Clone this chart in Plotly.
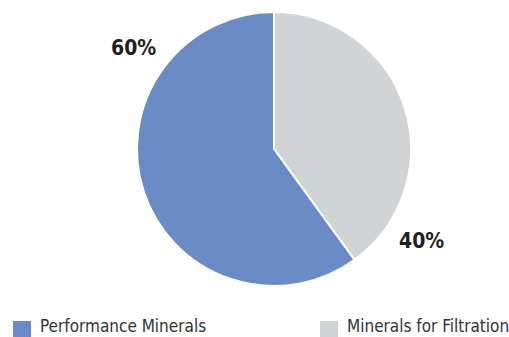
import plotly.graph_objects as go

# Segment data
labels = ["Performance Minerals", "Minerals for Filtration"]
values = [60, 40]
colors = ["#6a8bc6", "#d2d3d5"]

W, H = 509, 337
FONT = "DejaVu Sans Condensed, Roboto, sans-serif"

# Filtration runs clockwise from 12 o'clock, Performance fills the rest
order = [1, 0]
fig = go.Figure(
    go.Pie(
        labels=[labels[i] for i in order],
        values=[values[i] for i in order],
        sort=False,
        direction="clockwise",
        rotation=0,
        marker=dict(colors=[colors[i] for i in order],
                    line=dict(color="white", width=2)),
        textinfo="none",
        hoverinfo="label+percent",
        showlegend=False,
        domain=dict(x=[137 / W, 411 / W], y=[1 - 286 / H, 1 - 12 / H]),
    )
)

# Percentage callouts beside each slice
label_pos = [(133, 48), (421, 241)]
annotations = []
for v, (px, py) in zip(values, label_pos):
    annotations.append(
        dict(
            x=px / W, y=1 - py / H, xref="paper", yref="paper",
            text=f"<b>{v}%</b>", showarrow=False,
            font=dict(family=FONT, size=21, color="#231f20"),
            xanchor="center", yanchor="middle",
        )
    )

# Legend row along the bottom edge
shapes = []
legend_x = [13, 320]
for name, col, lx in zip(labels, colors, legend_x):
    shapes.append(
        dict(
            type="rect", xref="paper", yref="paper",
            x0=lx / W, x1=(lx + 18) / W, y0=0, y1=1 - 321 / H,
            fillcolor=col, line=dict(width=0),
        )
    )
    annotations.append(
        dict(
            x=(lx + 26) / W, y=0, xref="paper", yref="paper",
            text=name, showarrow=False, borderpad=0,
            font=dict(family=FONT, size=17, color="#333333"),
            xanchor="left", yanchor="bottom",
        )
    )

fig.update_layout(
    width=W, height=H,
    margin=dict(l=0, r=0, t=0, b=0),
    paper_bgcolor="white", plot_bgcolor="white",
    annotations=annotations, shapes=shapes,
)

fig.write_html("out.html")
